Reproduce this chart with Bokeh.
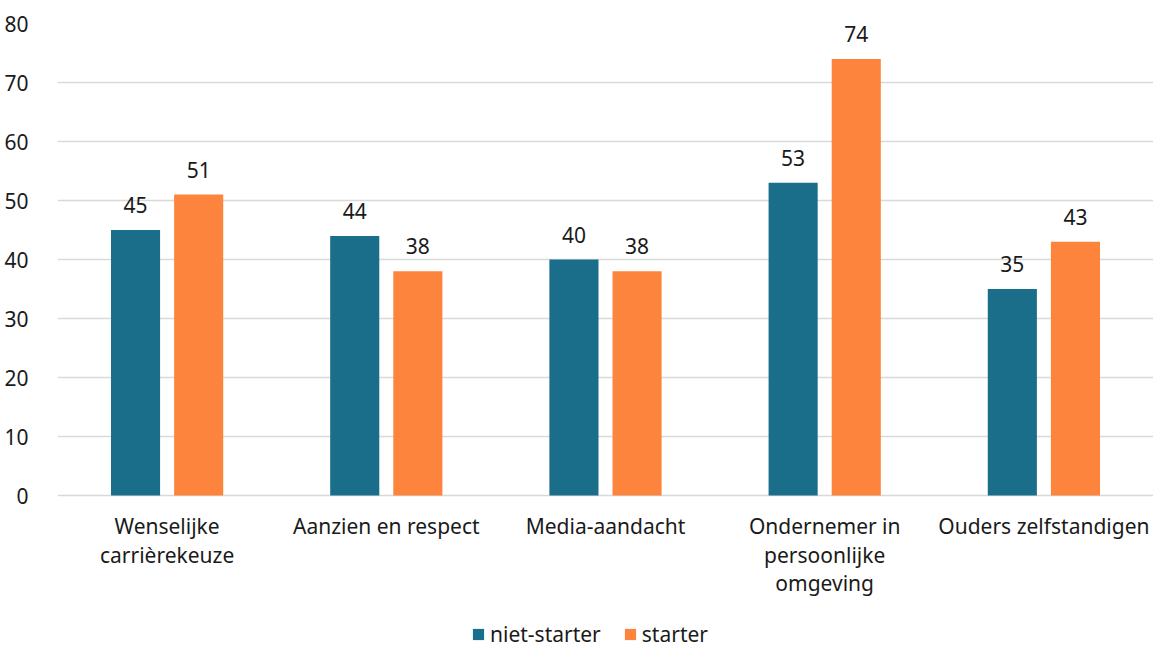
from bokeh.plotting import figure
from bokeh.models import ColumnDataSource, FixedTicker, Legend, LegendItem, LabelSet, Range1d
from bokeh.core.properties import value
from bokeh.embed import file_html
from bokeh.resources import INLINE

categories = ["Wenselijke\ncarrièrekeuze", "Aanzien en respect", "Media-aandacht",
              "Ondernemer in\npersoonlijke\nomgeving", "Ouders zelfstandigen"]
niet_starter = [45, 44, 40, 53, 35]
starter = [51, 38, 38, 74, 43]
series_names = ["niet-starter", "starter"]
y_ticks = [0, 10, 20, 30, 40, 50, 60, 70, 80]

TEAL = "#1a6e8a"
ORANGE = "#fd843c"
TXT = "#1a1a1a"
FONT = "Noto Sans"
FS = "21px"
LINE_STEP = 28.5

idx = list(range(len(categories)))
centers = [i + 0.5 for i in idx]
off = 0.144
bw = 0.224

src_a = ColumnDataSource(dict(x=[c - off for c in centers], top=niet_starter,
                              lab=[str(v) for v in niet_starter]))
src_b = ColumnDataSource(dict(x=[c + off for c in centers], top=starter,
                              lab=[str(v) for v in starter]))

# one row per line of each category label, so every line is centred
cx, cy, clab, coff = [], [], [], []
for c, lab in zip(centers, categories):
    for k, line in enumerate(lab.split("\n")):
        cx.append(c)
        cy.append(0)
        clab.append(line)
        coff.append(-30.5 - k * LINE_STEP)
src_c = ColumnDataSource(dict(x=cx, y=cy, lab=clab, yoff=coff))

# frame spans from the top gridline down to the bottom of the canvas;
# the area below 0 holds the category labels and the legend
p = figure(width=1153, height=648, output_backend="svg", toolbar_location=None,
           x_range=Range1d(0, 5.0), y_range=Range1d(-25.93, 80))
p.min_border_left = 57
p.min_border_right = 0
p.min_border_top = 23
p.min_border_bottom = 0
p.outline_line_color = None
p.background_fill_color = "white"
p.border_fill_color = "white"

r1 = p.vbar(x="x", top="top", width=bw, bottom=0, source=src_a, color=TEAL, line_color=None)
r2 = p.vbar(x="x", top="top", width=bw, bottom=0, source=src_b, color=ORANGE, line_color=None)

for s in (src_a, src_b):
    p.add_layout(LabelSet(x="x", y="top", text="lab", source=s, text_align="center",
                          text_baseline="bottom", y_offset=17, text_font=value(FONT),
                          text_font_size=value(FS), text_color=TXT))

p.add_layout(LabelSet(x="x", y="y", text="lab", source=src_c, text_align="center",
                      text_baseline="middle", y_offset="yoff", text_font=value(FONT),
                      text_font_size=value(FS), text_color=TXT))

p.xgrid.visible = False
p.ygrid.ticker = FixedTicker(ticks=y_ticks)
p.ygrid.grid_line_color = "#d9d9d9"
p.ygrid.grid_line_width = 1.5

p.yaxis.ticker = FixedTicker(ticks=y_ticks)
p.yaxis.axis_line_color = None
p.yaxis.major_tick_line_color = None
p.yaxis.minor_tick_line_color = None
p.yaxis.major_label_standoff = 23
p.yaxis.major_label_text_font = FONT
p.yaxis.major_label_text_font_size = FS
p.yaxis.major_label_text_color = TXT

p.xaxis.visible = False

legend = Legend(items=[LegendItem(label=series_names[0], renderers=[r1]),
                       LegendItem(label=series_names[1], renderers=[r2])],
                orientation="horizontal", location=(414, 0),
                label_text_font=FONT, label_text_font_size=FS,
                label_text_color=TXT, glyph_width=14, glyph_height=14,
                spacing=22, label_standoff=5, border_line_color=None,
                background_fill_alpha=0, padding=0, margin=0)
p.add_layout(legend, "center")

open("out.html", "w").write(file_html(p, INLINE))
